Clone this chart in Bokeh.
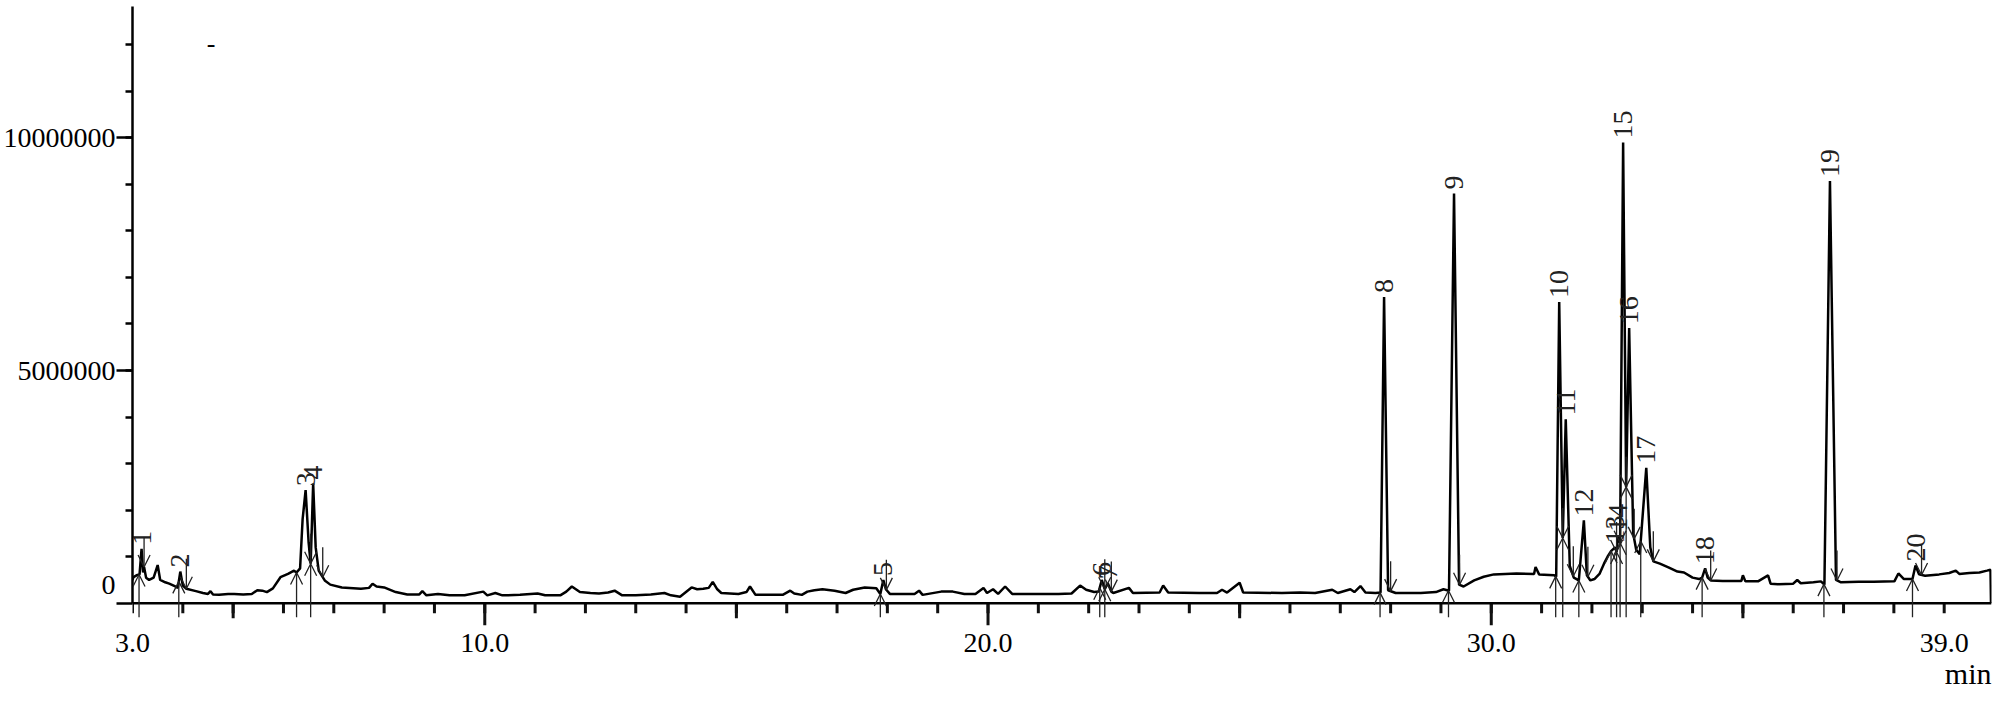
import numpy as np
from bokeh.plotting import figure
from bokeh.models import (Range1d, LinearAxis, FixedTicker, ColumnDataSource, Arrow,
                          OpenHead, Label, PrintfTickFormatter, Grid, Title, Span)
from bokeh.core.properties import value
from bokeh.embed import file_html
from bokeh.resources import INLINE

FONT = "Liberation Serif"

# ---- chromatogram trace (retention time in min, intensity in millions of counts) ----
rt_min = [
    3.00, 3.02, 3.08, 3.14, 3.18, 3.21, 3.23, 3.27, 3.33, 3.42, 3.50, 3.55, 3.65, 3.73, 3.85,
    3.90, 3.95, 4.00, 4.07, 4.26, 4.40, 4.50, 4.55, 4.60, 4.72, 4.90, 5.02, 5.20, 5.37, 5.48,
    5.58, 5.67, 5.79, 5.94, 6.09, 6.21, 6.26, 6.33, 6.38, 6.44, 6.50, 6.54, 6.59, 6.64, 6.70,
    6.82, 6.93, 7.16, 7.54, 7.70, 7.77, 7.85, 8.00, 8.23, 8.46, 8.70, 8.76, 8.84, 9.07, 9.30,
    9.60, 9.97, 10.05, 10.21, 10.35, 10.70, 11.05, 11.20, 11.50, 11.62, 11.73, 11.89, 12.10,
    12.27, 12.45, 12.58, 12.73, 13.00, 13.30, 13.57, 13.70, 13.88, 14.11, 14.22, 14.34, 14.45,
    14.53, 14.62, 14.70, 15.04, 15.20, 15.27, 15.38, 15.92, 16.07, 16.15, 16.30, 16.41, 16.55,
    16.71, 16.95, 17.17, 17.32, 17.55, 17.78, 17.86, 17.92, 17.97, 18.05, 18.54, 18.63, 18.70,
    19.07, 19.30, 19.53, 19.75, 19.91, 19.98, 20.10, 20.20, 20.34, 20.48, 20.97, 21.40, 21.66,
    21.83, 21.95, 22.11, 22.20, 22.26, 22.32, 22.38, 22.45, 22.49, 22.80, 22.88, 23.41, 23.48,
    23.58, 24.20, 24.55, 24.65, 24.75, 25.00, 25.07, 25.84, 26.20, 26.50, 26.84, 26.95, 27.20,
    27.28, 27.40, 27.50, 27.70, 27.80, 27.87, 27.95, 28.10, 28.60, 28.90, 29.05, 29.16, 29.26,
    29.36, 29.45, 29.66, 29.85, 30.05, 30.50, 30.85, 30.88, 30.95, 31.25, 31.29, 31.35, 31.42,
    31.48, 31.56, 31.64, 31.74, 31.84, 31.90, 31.97, 32.05, 32.15, 32.24, 32.31, 32.38, 32.46,
    32.49, 32.52, 32.56, 32.62, 32.68, 32.74, 32.82, 32.88, 32.95, 33.08, 33.16, 33.22, 33.35,
    33.52, 33.70, 33.83, 34.00, 34.13, 34.19, 34.25, 34.30, 34.36, 34.60, 34.97, 35.00, 35.05,
    35.30, 35.50, 35.55, 35.70, 36.00, 36.08, 36.15, 36.40, 36.55, 36.62, 36.73, 36.85, 36.95,
    37.30, 37.60, 38.01, 38.09, 38.20, 38.37, 38.43, 38.50, 38.62, 38.90, 39.10, 39.23, 39.30,
    39.50, 39.70, 39.85, 39.92, 39.93,
]
intensity_M = [
    0.50, 0.56, 0.60, 0.62, 1.17, 0.66, 0.78, 0.55, 0.50, 0.55, 0.82, 0.50, 0.45, 0.42, 0.36,
    0.33, 0.68, 0.38, 0.31, 0.26, 0.22, 0.20, 0.26, 0.19, 0.18, 0.20, 0.20, 0.19, 0.20, 0.28,
    0.27, 0.24, 0.32, 0.56, 0.63, 0.70, 0.66, 0.75, 1.80, 2.43, 1.30, 0.85, 2.57, 1.20, 0.70,
    0.49, 0.40, 0.34, 0.31, 0.33, 0.42, 0.36, 0.34, 0.24, 0.19, 0.19, 0.26, 0.17, 0.20, 0.17,
    0.17, 0.25, 0.17, 0.22, 0.17, 0.18, 0.21, 0.17, 0.17, 0.25, 0.36, 0.24, 0.22,
    0.21, 0.23, 0.27, 0.17, 0.17, 0.19, 0.22, 0.17, 0.14, 0.34, 0.30, 0.31, 0.33,
    0.46, 0.30, 0.22, 0.20, 0.24, 0.36, 0.18, 0.18, 0.27, 0.21, 0.18, 0.25, 0.28,
    0.30, 0.27, 0.22, 0.29, 0.34, 0.32, 0.20, 0.50, 0.30, 0.20, 0.20, 0.27, 0.18,
    0.25, 0.25, 0.20, 0.20, 0.33, 0.22, 0.30, 0.20, 0.36, 0.20, 0.20, 0.20, 0.21,
    0.38, 0.29, 0.24, 0.25, 0.50, 0.30, 0.43, 0.25, 0.22, 0.33, 0.22, 0.23, 0.38,
    0.23, 0.22, 0.22, 0.29, 0.23, 0.44, 0.23, 0.22, 0.23, 0.22, 0.29, 0.22, 0.30,
    0.24, 0.37, 0.23, 0.22, 0.23, 6.58, 0.28, 0.22, 0.22, 0.24, 0.30, 0.27, 8.80,
    0.40, 0.36, 0.49, 0.57, 0.62, 0.64, 0.63, 0.78, 0.62, 0.60, 0.57, 6.47, 1.40,
    3.95, 0.80, 0.55, 0.49, 1.78, 0.60, 0.49, 0.52, 0.63, 0.85, 1.00, 1.12, 1.20,
    1.10, 1.45, 1.30, 9.90, 2.50, 5.91, 1.50, 1.15, 1.05, 2.91, 1.20, 0.90, 0.85,
    0.77, 0.68, 0.66, 0.55, 0.52, 0.55, 0.75, 0.55, 0.49, 0.48, 0.48, 0.60, 0.47,
    0.47, 0.60, 0.42, 0.41, 0.42, 0.50, 0.43, 0.45, 0.47, 0.40, 9.07, 0.50, 0.45,
    0.46, 0.46, 0.47, 0.64, 0.52, 0.52, 0.81, 0.62, 0.59, 0.62, 0.65, 0.70, 0.63,
    0.65, 0.66, 0.70, 0.72, 0.00,
]

# ---- integrated peaks ----
peak_ids = [str(i) for i in range(1, 21)]
peak_rt = [3.18, 3.95, 6.44, 6.59, 17.92, 22.26, 22.38, 27.87, 29.26, 31.35,
           31.48, 31.84, 32.46, 32.52, 32.62, 32.74, 33.08, 34.25, 36.73, 38.43]
peak_start = [3.13, 3.92, 6.26, 6.54, 17.86, 22.22, 22.32, 27.79, 29.15, 31.28,
              31.42, 31.74, 32.38, 32.49, 32.56, 32.68, 32.97, 34.19, 36.61, 38.37]
peak_end = [3.23, 4.07, 6.54, 6.78, 17.98, 22.32, 22.45, 28.00, 29.37, 31.42,
            31.63, 31.92, 32.49, 32.56, 32.68, 32.84, 33.22, 34.36, 36.87, 38.55]

# ---- axes ----
x_label_ticks = [3.0, 10.0, 20.0, 30.0, 39.0]
x_minor_ticks = [float(v) for v in range(3, 40)]
x_mid_ticks = [5.0, 15.0, 25.0, 35.0]
x_long_ticks = [10.0, 20.0, 30.0]
y_major_ticks = [0, 5000000, 10000000]
y_minor_ticks = [i * 1000000 for i in range(1, 13)]
x_title = "min"

Y_TOP = 12820000
Y_BOTTOM = -650000
W, H = 1999, 712
B_LEFT, B_RIGHT, B_TOP, B_BOTTOM = 132, 8, 6, 79

scale = 1e6
t = np.array(rt_min)
sig = np.array(intensity_M) * scale

p = figure(width=W, height=H, output_backend="svg", toolbar_location=None,
           x_range=Range1d(3.0, 39.94), y_range=Range1d(Y_BOTTOM, Y_TOP),
           x_axis_location=None, y_axis_location=None,
           min_border_left=B_LEFT, min_border_right=B_RIGHT, min_border_top=B_TOP,
           min_border_bottom=B_BOTTOM)
p.outline_line_color = None
p.background_fill_color = "white"
p.border_fill_color = "white"
for g in p.select(type=Grid):
    g.visible = False

# data units per screen pixel on the y scale (for tick lengths inside the frame)
y_per_px = (Y_TOP - Y_BOTTOM) / (H - B_TOP - B_BOTTOM)

# y axis
yax = LinearAxis(ticker=FixedTicker(ticks=y_major_ticks, minor_ticks=y_minor_ticks),
                 formatter=PrintfTickFormatter(format="%d"))
yax.bounds = (0, Y_TOP)
yax.major_label_overrides = {0: "0\n "}
yax.axis_line_width = 2.5
yax.axis_line_color = "black"
yax.major_tick_out = 16
yax.major_tick_in = 0
yax.minor_tick_out = 7
yax.minor_tick_in = 0
yax.major_tick_line_width = 2.5
yax.minor_tick_line_width = 2.5
yax.major_label_standoff = 1
yax.major_label_text_font = FONT
yax.major_label_text_font_size = "28px"
yax.major_label_text_color = "black"
p.add_layout(yax, "left")

# x axis rule on the zero line and its ticks (inside the frame)
p.add_layout(Span(location=0, dimension="width", line_color="black", line_width=2.5))
for ticks, ln in ((x_minor_ticks, 10), (x_mid_ticks, 15), (x_long_ticks, 22)):
    tick_src = ColumnDataSource(dict(x=ticks, y0=[0.0] * len(ticks),
                                     y1=[-ln * y_per_px] * len(ticks)))
    p.segment(x0="x", y0="y0", x1="x", y1="y1", source=tick_src,
              line_color="#111111", line_width=3)

# x tick labels below the frame
xlab = LinearAxis(ticker=FixedTicker(ticks=x_label_ticks, minor_ticks=[]),
                  formatter=PrintfTickFormatter(format="%.1f"))
xlab.axis_line_color = None
xlab.major_tick_line_color = None
xlab.minor_tick_line_color = None
xlab.major_tick_out = 0
xlab.major_tick_in = 0
xlab.major_label_standoff = 0
xlab.major_label_text_font = FONT
xlab.major_label_text_font_size = "28px"
xlab.major_label_text_color = "black"
p.add_layout(xlab, "below")

p.add_layout(Title(text=x_title, align="right", text_font=FONT, text_font_size="30px",
                   text_font_style="normal", text_color="black", standoff=0), "below")

# trace
p.line(t, sig, line_color="black", line_width=2.5)

# integration marks
vs = np.interp(peak_start, t, sig)
ve = np.interp(peak_end, t, sig)
start_src = ColumnDataSource(dict(x0=peak_start, y0=np.full(len(vs), -14 * y_per_px),
                                  x1=peak_start, y1=vs))
end_src = ColumnDataSource(dict(x0=peak_end, y0=ve + 30 * y_per_px, x1=peak_end, y1=ve))
for src in (start_src, end_src):
    p.add_layout(Arrow(x_start="x0", y_start="y0", x_end="x1", y_end="y1", source=src,
                       line_color="#222222", line_width=1.3,
                       end=OpenHead(size=12, line_color="#222222", line_width=1.3)))

# peak labels
apex = np.interp(peak_rt, t, sig)
p.text(x=peak_rt, y=apex, text=peak_ids, angle=np.pi / 2, text_align="left",
       text_baseline="middle", text_font=value(FONT), text_font_size="28px",
       text_color="#222222", y_offset=-4)

# stray mark near the top-left of the original plot
p.add_layout(Label(x=4.56, y=12030000, text="-", text_align="center",
                   text_baseline="middle", text_font=FONT, text_font_size="26px",
                   text_color="black"))

open("out.html", "w").write(file_html(p, INLINE))
